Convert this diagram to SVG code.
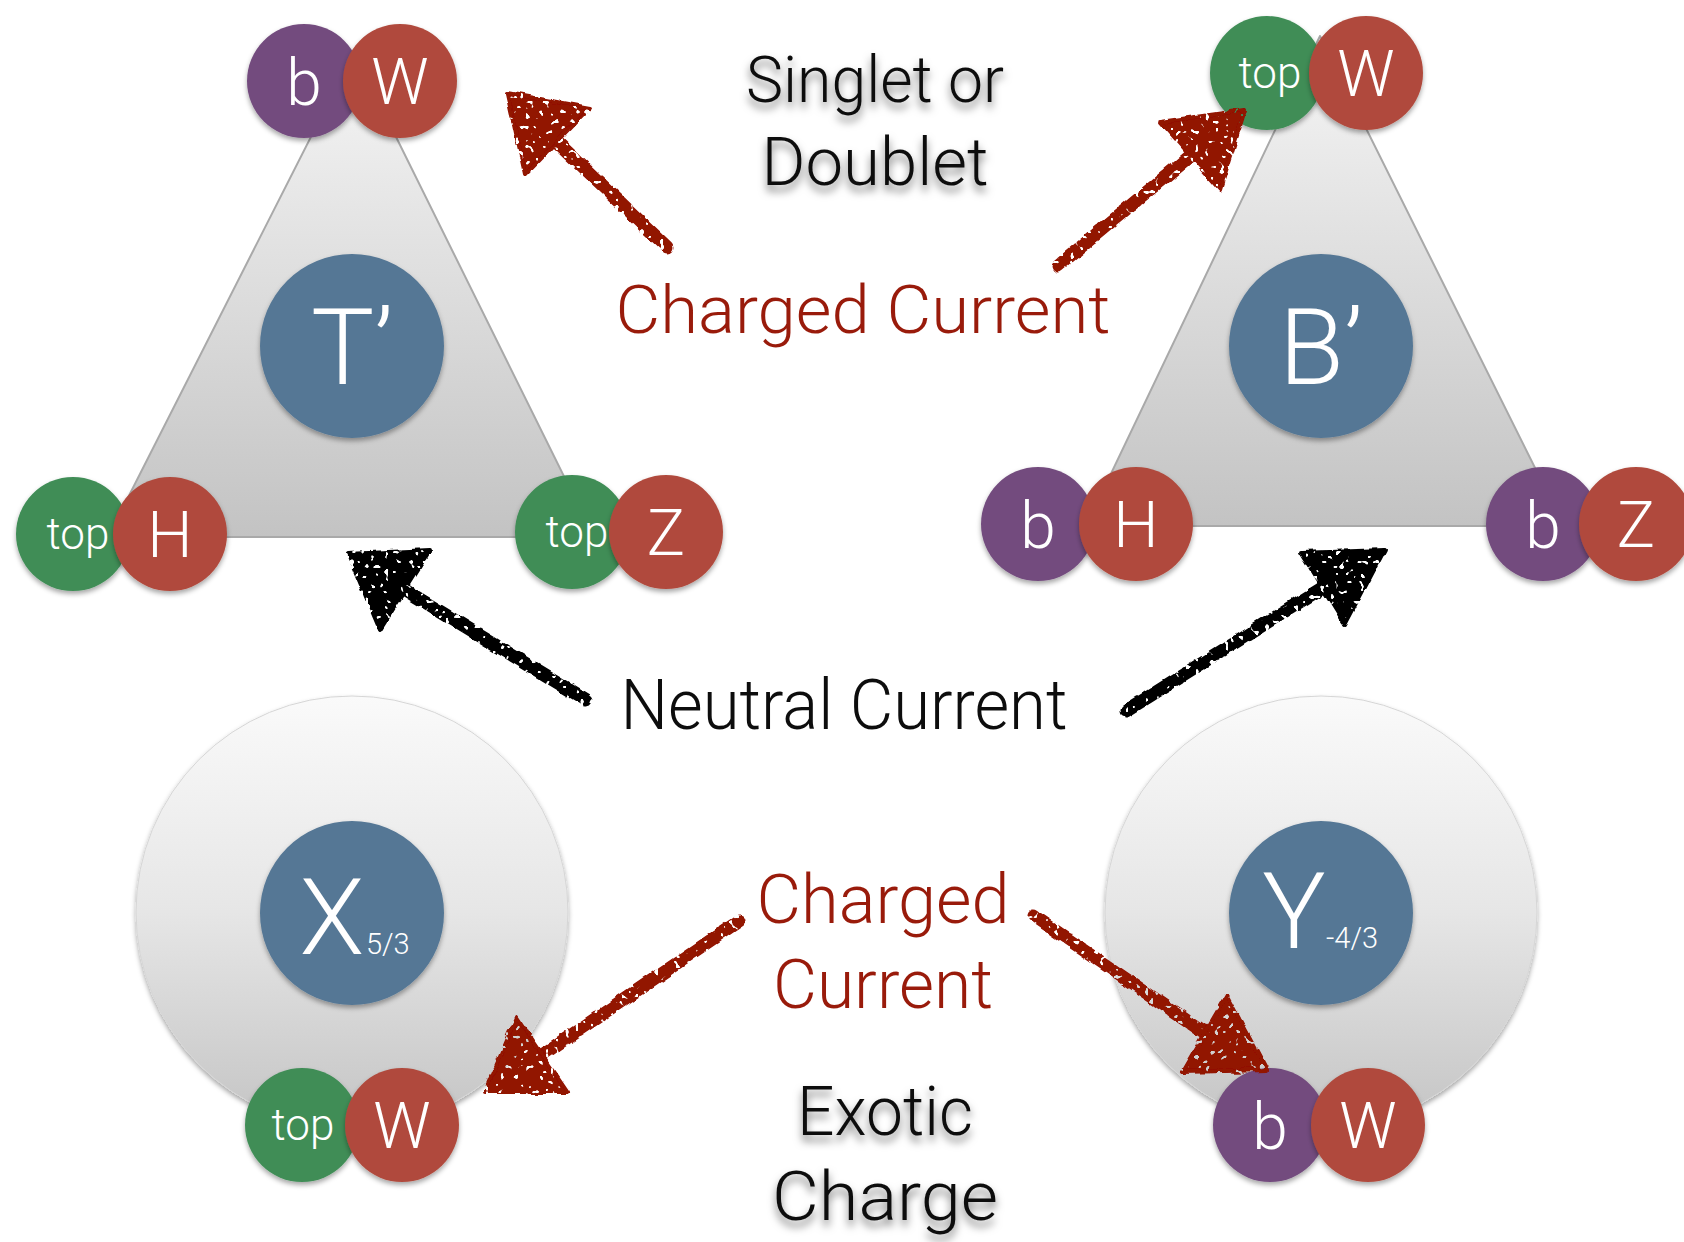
<svg xmlns="http://www.w3.org/2000/svg" width="1684" height="1242" viewBox="0 0 1684 1242">
<defs>
  <linearGradient id="triG" x1="0" y1="0" x2="0" y2="1">
    <stop offset="0" stop-color="#f6f6f6"/>
    <stop offset="1" stop-color="#c3c3c3"/>
  </linearGradient>
  <linearGradient id="discG" x1="0" y1="0" x2="0" y2="1">
    <stop offset="0" stop-color="#fafafa"/>
    <stop offset="0.5" stop-color="#e6e6e6"/>
    <stop offset="1" stop-color="#c4c4c4"/>
  </linearGradient>
  <filter id="sh" x="-20%" y="-20%" width="140%" height="150%">
    <feDropShadow dx="0" dy="3" stdDeviation="2.5" flood-color="#000" flood-opacity="0.35"/>
  </filter>
  <filter id="tsh" x="-10%" y="-20%" width="120%" height="160%">
    <feDropShadow dx="0" dy="6" stdDeviation="4" flood-color="#000" flood-opacity="0.55"/>
  </filter>
  <filter id="rough" x="-15%" y="-15%" width="130%" height="130%">
    <feTurbulence type="fractalNoise" baseFrequency="0.07" numOctaves="2" seed="4" result="n"/>
    <feDisplacementMap in="SourceGraphic" in2="n" scale="6" xChannelSelector="R" yChannelSelector="G" result="d"/>
    <feTurbulence type="fractalNoise" baseFrequency="0.2" numOctaves="1" seed="11" result="n2"/>
    <feColorMatrix in="n2" type="matrix" values="0 0 0 0 0  0 0 0 0 0  0 0 0 0 0  0 0 0 -22 15" result="holes"/>
    <feComposite in="d" in2="holes" operator="in"/>
  </filter>
  <style>
    .tri { fill: url(#triG); stroke: #a9a9a9; stroke-width: 2; stroke-linejoin: round; }
    .disc { fill: url(#discG); stroke: #d6d6d6; stroke-width: 1; filter: url(#sh); }
    .pur { fill: #734c7e; filter: url(#sh); }
    .red { fill: #b04a3c; filter: url(#sh); }
    .grn { fill: #3f8d56; filter: url(#sh); }
    .blu { fill: #557795; filter: url(#sh); }
    .ct { font-family: Roboto, "Liberation Sans", Arial, sans-serif; font-weight: 300; fill: #ffffff; text-anchor: middle; }
    .let { font-size: 64px; }
    .top { font-size: 44px; }
    .big { font-size: 106px; }
    .sub { font-size: 29px; text-anchor: start; }
    .lab { font-family: Roboto, "Liberation Sans", Arial, sans-serif; font-weight: 300; text-anchor: middle; }
    .blk { fill: #0d0d0d; }
    .shd { filter: url(#tsh); }
    .rd { fill: #991b0b; }
    .arR { fill: #921200; stroke: #921200; }
    .arK { fill: #050505; stroke: #050505; }
    .shaft { fill: none; stroke-width: 13; stroke-linecap: round; }
    .head { stroke-width: 4; stroke-linejoin: round; }
  </style>
</defs>
<rect width="1684" height="1242" fill="#ffffff"/>

<g id="node-Tprime">
  <polygon class="tri" points="354,52 108,537 594,537"/>
  <circle class="pur" cx="304" cy="81" r="57"/>
  <circle class="red" cx="400" cy="81" r="57"/>
  <text class="ct let" x="304" y="105">b</text>
  <text class="ct let" x="400" y="104">W</text>
  <circle class="blu" cx="352" cy="346" r="92"/>
  <text class="ct big" x="352" y="384">T’</text>
  <circle class="grn" cx="73" cy="534" r="57"/>
  <text class="ct top" x="78" y="549">top</text>
  <circle class="red" cx="170" cy="534" r="57"/>
  <text class="ct let" x="170" y="557">H</text>
  <circle class="grn" cx="572" cy="532" r="57"/>
  <text class="ct top" x="577" y="547">top</text>
  <circle class="red" cx="666" cy="532" r="57"/>
  <text class="ct let" x="666" y="555">Z</text>
</g>

<g id="node-Bprime">
  <polygon class="tri" points="1320,36 1086,526 1564,526"/>
  <circle class="grn" cx="1267" cy="73" r="57"/>
  <text class="ct top" x="1270" y="88">top</text>
  <circle class="red" cx="1366" cy="73" r="57"/>
  <text class="ct let" x="1366" y="96">W</text>
  <circle class="blu" cx="1321" cy="346" r="92"/>
  <text class="ct big" x="1321" y="384">B’</text>
  <circle class="pur" cx="1038" cy="524" r="57"/>
  <text class="ct let" x="1038" y="548">b</text>
  <circle class="red" cx="1136" cy="524" r="57"/>
  <text class="ct let" x="1136" y="547">H</text>
  <circle class="pur" cx="1543" cy="524" r="57"/>
  <text class="ct let" x="1543" y="548">b</text>
  <circle class="red" cx="1636" cy="524" r="57"/>
  <text class="ct let" x="1636" y="547">Z</text>
</g>

<g id="node-X53">
  <circle class="disc" cx="352" cy="912" r="216"/>
  <circle class="blu" cx="352" cy="913" r="92"/>
  <text class="ct big" x="332" y="954">X</text>
  <text class="ct sub" x="366" y="954">5/3</text>
  <circle class="grn" cx="302" cy="1125" r="57"/>
  <text class="ct top" x="303" y="1140">top</text>
  <circle class="red" cx="402" cy="1125" r="57"/>
  <text class="ct let" x="402" y="1148">W</text>
</g>

<g id="node-Y43">
  <circle class="disc" cx="1321" cy="912" r="216"/>
  <circle class="blu" cx="1321" cy="913" r="92"/>
  <text class="ct big" x="1294" y="948">Y</text>
  <text class="ct sub" x="1326" y="948">-4/3</text>
  <circle class="pur" cx="1270" cy="1125" r="57"/>
  <text class="ct let" x="1270" y="1149">b</text>
  <circle class="red" cx="1368" cy="1125" r="57"/>
  <text class="ct let" x="1368" y="1148">W</text>
</g>

<g id="labels">
  <text class="lab blk shd" x="875" y="102" font-size="64" textLength="258" lengthAdjust="spacingAndGlyphs">Singlet or</text>
  <text class="lab blk shd" x="875" y="185" font-size="66" textLength="227" lengthAdjust="spacingAndGlyphs">Doublet</text>
  <text class="lab rd" x="863" y="333" font-size="67" textLength="495" lengthAdjust="spacingAndGlyphs">Charged Current</text>
  <text class="lab blk" x="844" y="729" font-size="70" textLength="447" lengthAdjust="spacingAndGlyphs">Neutral Current</text>
  <text class="lab rd" x="883" y="923" font-size="69" textLength="253" lengthAdjust="spacingAndGlyphs">Charged</text>
  <text class="lab rd" x="883" y="1008" font-size="69" textLength="220" lengthAdjust="spacingAndGlyphs">Current</text>
  <text class="lab blk shd" x="885" y="1135" font-size="68" textLength="176" lengthAdjust="spacingAndGlyphs">Exotic</text>
  <text class="lab blk shd" x="885" y="1220" font-size="68" textLength="226" lengthAdjust="spacingAndGlyphs">Charge</text>
</g>

<g id="connectors" filter="url(#rough)">
  <g class="arR">
    <path class="shaft" d="M667,247 L556,141"/>
    <polygon class="head" points="507,93 590,108 525,175"/>
  </g>
  <g class="arR">
    <path class="shaft" d="M1058,266 L1190,156"/>
    <polygon class="head" points="1245,110 1160,122 1220,190"/>
  </g>
  <g class="arK">
    <path class="shaft" d="M586,700 L405,590"/>
    <polygon class="head" points="348,554 430,550 380,630"/>
  </g>
  <g class="arK">
    <path class="shaft" d="M1126,711 L1322,588"/>
    <polygon class="head" points="1385,549 1300,552 1345,625"/>
  </g>
  <g class="arR">
    <path class="shaft" d="M739,921 L542,1055"/>
    <polygon class="head" points="485,1092 517,1017 568,1092"/>
  </g>
  <g class="arR">
    <path class="shaft" d="M1034,916 L1205,1033"/>
    <polygon class="head" points="1267,1070 1227,995 1182,1072"/>
  </g>
</g>
</svg>
